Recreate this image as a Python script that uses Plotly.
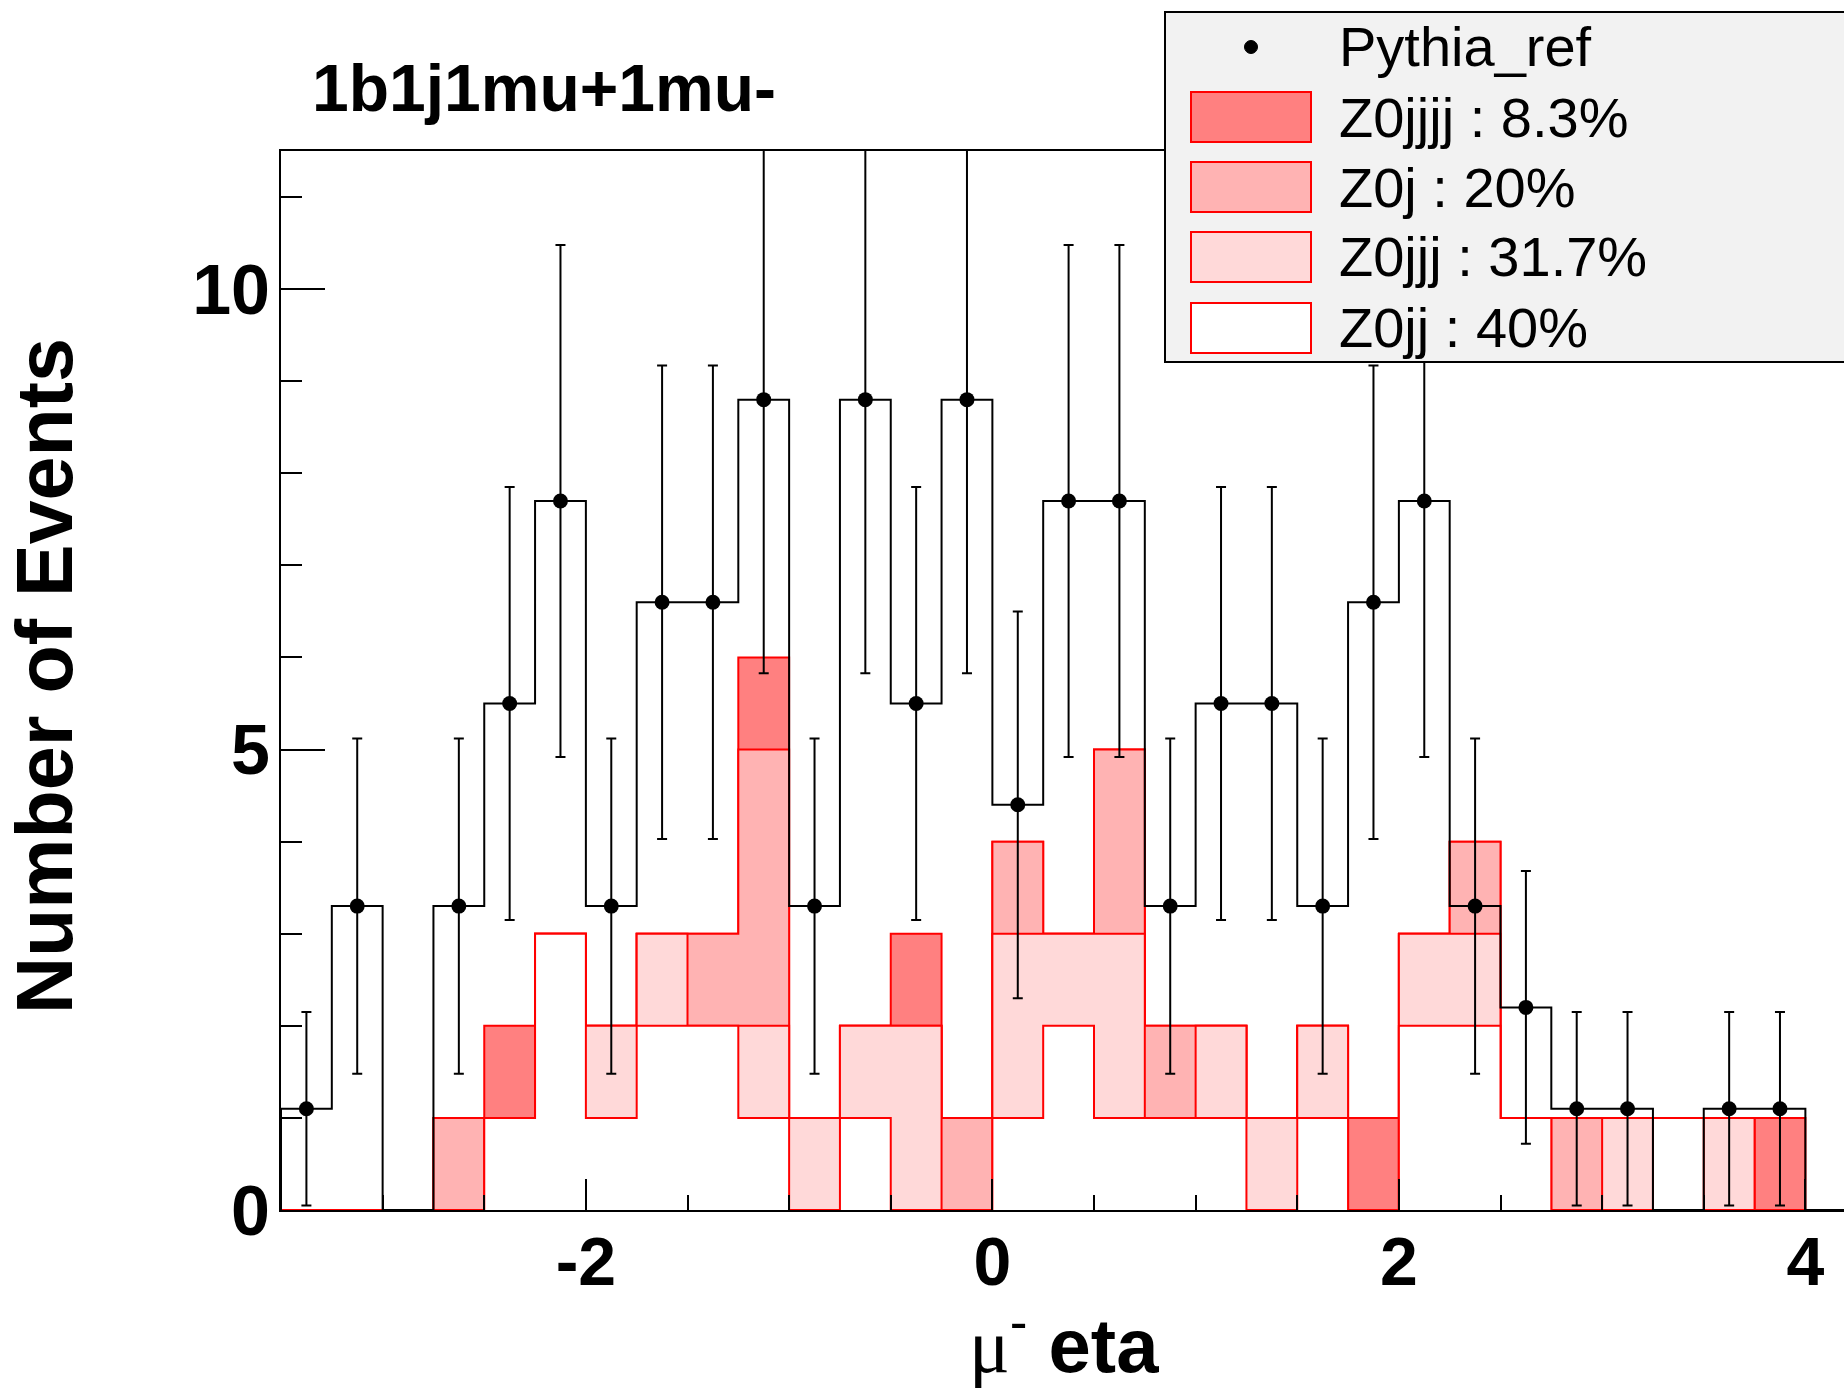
import plotly.graph_objects as go

# ---------------- data ----------------
eta_low = -3.5
bin_width = 0.25
n_bins = 31
bin_edges = [eta_low + i * bin_width for i in range(n_bins + 1)]
bin_centers = [eta_low + (i + 0.5) * bin_width for i in range(n_bins)]

pythia_ref = [1.1, 3.3, 0, 3.3, 5.5, 7.7, 3.3, 6.6, 6.6, 8.8, 3.3, 8.8, 5.5, 8.8, 4.4, 7.7,
              7.7, 3.3, 5.5, 5.5, 3.3, 6.6, 7.7, 3.3, 2.2, 1.1, 1.1, 0, 1.1, 1.1, 0]
pythia_err = [1.05, 1.82, 0, 1.82, 2.35, 2.78, 1.82, 2.57, 2.57, 2.97, 1.82, 2.97, 2.35, 2.97, 2.1, 2.78,
              2.78, 1.82, 2.35, 2.35, 1.82, 2.57, 2.78, 1.82, 1.48, 1.05, 1.05, 0, 1.05, 1.05, 0]

# stacked MC samples, bottom to top
z0jj   = [0, 0, 0, 0, 1, 3, 1, 2, 2, 1, 0, 1, 0, 0, 1, 2, 1, 1, 1, 0, 1, 0, 2, 2, 1, 0, 0, 1, 0, 0, 0]
z0jjj  = [0, 0, 0, 0, 0, 0, 1, 1, 0, 1, 1, 1, 2, 0, 2, 1, 2, 0, 1, 1, 1, 0, 1, 1, 0, 0, 1, 0, 1, 0, 0]
z0j    = [0, 0, 0, 1, 0, 0, 0, 0, 1, 3, 0, 0, 0, 1, 1, 0, 2, 1, 0, 0, 0, 0, 0, 1, 0, 1, 0, 0, 0, 0, 0]
z0jjjj = [0, 0, 0, 0, 1, 0, 0, 0, 0, 1, 0, 0, 1, 0, 0, 0, 0, 0, 0, 0, 0, 1, 0, 0, 0, 0, 0, 0, 0, 1, 0]

legend_labels = ["Pythia_ref", "Z0jjjj : 8.3%", "Z0j : 20%", "Z0jjj : 31.7%", "Z0jj : 40%"]
x_tick_vals = [-2, 0, 2, 4]
x_tick_text = ["-2", "0", "2", "4"]
y_tick_vals = [0, 5, 10]
y_tick_text = ["0", "5", "10"]
title_text = "1b1j1mu+1mu-"
x_title = "<span style=\"font-family:'Liberation Serif', serif\">μ</span><sup>-</sup> <b>eta</b>"
y_title = "Number of Events"

# ---------------- style ----------------
C_DARK = "rgb(255,128,128)"
C_MED = "rgb(255,179,179)"
C_LIGHT = "rgb(255,217,217)"
C_WHITE = "rgb(255,255,255)"
RED = "rgb(255,0,0)"
FONT = "Liberation Sans, Arial, Helvetica, sans-serif"

W, H = 1844, 1392
ML, MR, MT, MB = 281, 0, 151, 182
PW, PH = W - ML - MR, H - MT - MB


def pxx(px):
    return (px - ML) / PW


def pyy(py):
    return (H - MB - py) / PH


def step_xy(values):
    xs = [bin_edges[0]] + bin_edges[:-1] + [bin_edges[-1], bin_edges[-1]]
    ys = [0] + list(values) + [values[-1], 0]
    return xs, ys


cum1 = list(z0jj)
cum2 = [a + b for a, b in zip(cum1, z0jjj)]
cum3 = [a + b for a, b in zip(cum2, z0j)]
cum4 = [a + b for a, b in zip(cum3, z0jjjj)]

fig = go.Figure()

# THStack-like drawing: largest cumulative first
for cum, col in [(cum4, C_DARK), (cum3, C_MED), (cum2, C_LIGHT), (cum1, C_WHITE)]:
    xs, ys = step_xy(cum)
    fig.add_trace(go.Scatter(x=xs, y=ys, mode="lines", line=dict(shape="hv", color=RED, width=2),
                             fill="tozeroy", fillcolor=col, showlegend=False, hoverinfo="skip"))

# reference histogram outline
xs, ys = step_xy(pythia_ref)
fig.add_trace(go.Scatter(x=xs, y=ys, mode="lines", line=dict(shape="hv", color="black", width=2),
                         showlegend=False, hoverinfo="skip"))

# reference points with errors
px_, py_, pe_ = [], [], []
for c, v, e in zip(bin_centers, pythia_ref, pythia_err):
    if v > 0:
        px_.append(c)
        py_.append(v)
        pe_.append(e)
fig.add_trace(go.Scatter(x=px_, y=py_, mode="markers", marker=dict(color="black", size=15),
                         error_y=dict(type="data", array=pe_, color="black", thickness=2, width=5),
                         showlegend=False, cliponaxis=True))

# ---------------- legend (drawn manually, ROOT TLegend style) ----------------
shapes = []
annotations = []
shapes.append(dict(type="rect", xref="paper", yref="paper", x0=pxx(1165), x1=pxx(1860),
                   y0=pyy(362), y1=pyy(12), fillcolor="rgb(242,242,242)",
                   line=dict(color="black", width=2), layer="above"))
row_y = [47, 117, 187, 257, 328]
shapes.append(dict(type="circle", xref="paper", yref="paper", xsizemode="pixel", ysizemode="pixel",
                   xanchor=pxx(1251), yanchor=pyy(row_y[0]), x0=-6.5, x1=6.5, y0=-6.5, y1=6.5,
                   fillcolor="black", line=dict(color="black", width=1), layer="above"))
for i, col in enumerate([C_DARK, C_MED, C_LIGHT, C_WHITE]):
    yc = row_y[i + 1]
    shapes.append(dict(type="rect", xref="paper", yref="paper", x0=pxx(1191), x1=pxx(1311),
                       y0=pyy(yc + 25), y1=pyy(yc - 25), fillcolor=col,
                       line=dict(color=RED, width=2), layer="above"))
for lab, yc in zip(legend_labels, row_y):
    annotations.append(dict(text=lab, xref="paper", yref="paper", x=pxx(1337), y=pyy(yc),
                            xanchor="left", yanchor="middle", showarrow=False,
                            font=dict(family=FONT, size=56, color="black")))

# title and axis titles
annotations.append(dict(text="<b>" + title_text + "</b>", xref="paper", yref="paper",
                        x=pxx(310), y=pyy(88), xanchor="left", yanchor="middle", showarrow=False,
                        font=dict(family=FONT, size=66, color="black")))
annotations.append(dict(text="<b>" + y_title + "</b>", xref="paper", yref="paper",
                        x=pxx(44), y=pyy(676), xanchor="center", yanchor="middle", textangle=-90,
                        showarrow=False, font=dict(family=FONT, size=79, color="black")))
annotations.append(dict(text=x_title, xref="paper", yref="paper",
                        x=pxx(1064), y=pyy(1340), xanchor="center", yanchor="middle",
                        showarrow=False, font=dict(family=FONT, size=76, color="black")))

fig.update_layout(
    width=W, height=H, margin=dict(l=ML, r=MR, t=MT, b=MB, pad=0),
    paper_bgcolor="white", plot_bgcolor="white",
    shapes=shapes, annotations=annotations, showlegend=False,
    font=dict(family=FONT, color="black"),
)
fig.update_xaxes(range=[eta_low, eta_low + PW / 203.25], showgrid=False, zeroline=False,
                 showline=True, linecolor="black", linewidth=2, mirror=True,
                 ticks="inside", ticklen=31, tickwidth=2, tickcolor="black",
                 tickmode="array", tickvals=x_tick_vals, ticktext=x_tick_text,
                 minor=dict(ticks="inside", dtick=0.5, tick0=0, ticklen=15, tickwidth=2, tickcolor="black"),
                 tickfont=dict(family=FONT, size=68, color="black", weight="bold"),
                 ticklabelstandoff=-9)
fig.update_yaxes(range=[0, 11.5], showgrid=False, zeroline=False,
                 showline=True, linecolor="black", linewidth=2, mirror=False,
                 ticks="inside", ticklen=44, tickwidth=2, tickcolor="black",
                 tickmode="array", tickvals=y_tick_vals, ticktext=y_tick_text,
                 minor=dict(ticks="inside", dtick=1, tick0=0, ticklen=21, tickwidth=2, tickcolor="black"),
                 tickfont=dict(family=FONT, size=70, color="black", weight="bold"),
                 ticklabelstandoff=-5)

fig.write_html("out.html", config={"displayModeBar": False},
               post_script="document.body.style.margin='0';document.body.style.overflow='hidden';")
